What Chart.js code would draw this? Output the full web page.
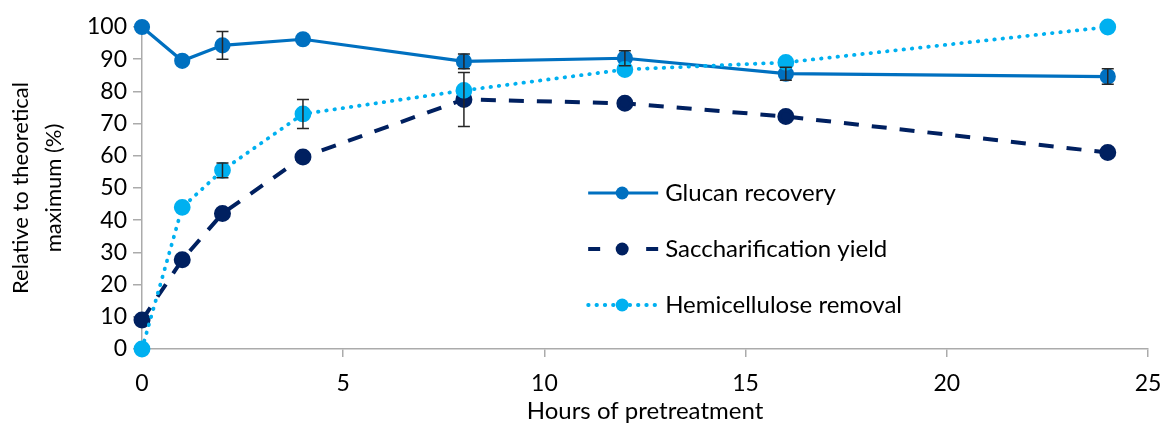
<!DOCTYPE html>
<html>
<head>
<meta charset="utf-8">
<script src="https://cdn.jsdelivr.net/npm/chart.js@4/dist/chart.umd.min.js"></script>
<style>
  html, body { margin: 0; padding: 0; background: #fff; }
  #wrap { width: 1164px; height: 426px; }
</style>
</head>
<body>
<div id="wrap"><canvas id="chart"></canvas></div>
<script>
// Hours of pretreatment
const hours = [0, 1, 2, 4, 8, 12, 16, 24];

// Series values (% of theoretical maximum)
const glucanRecovery = [100, 89.5, 94.3, 96.2, 89.3, 90.3, 85.5, 84.6];
const saccharificationYield = [9, 27.7, 42.1, 59.6, 77.5, 76.3, 72.2, 61];
const hemicelluloseRemoval = [0, 44, 55.5, 73, 80.3, 86.8, 89, 100];

// Error bars (+/-)
const glucanErr = [0, 0, 4.3, 0, 2.3, 2.3, 2, 2.4];
const saccharificationErr = [0, 0, 0, 0, 8.4, 0, 0, 0];
const hemicelluloseErr = [0, 0, 2.3, 4.5, 0, 0, 0, 0];

const seriesNames = ['Glucan recovery', 'Saccharification yield', 'Hemicellulose removal'];
const yTicks = [0, 10, 20, 30, 40, 50, 60, 70, 80, 90, 100];
const xTicks = [0, 5, 10, 15, 20, 25];

const FONT = 'Lato, "Open Sans", sans-serif';

const toPoints = (vals) => hours.map((h, i) => ({ x: h, y: vals[i] }));

// error bars drawn on top of the markers
const errorBars = {
  id: 'errorBars',
  afterDatasetsDraw(chart) {
    const { ctx, scales: { x, y } } = chart;
    ctx.save();
    ctx.strokeStyle = '#262626';
    ctx.lineWidth = 1.5;
    chart.data.datasets.forEach((ds) => {
      ds.errors.forEach((e, i) => {
        if (!e) return;
        const px = x.getPixelForValue(hours[i]);
        const top = y.getPixelForValue(ds.data[i].y + e);
        const bot = y.getPixelForValue(ds.data[i].y - e);
        ctx.beginPath();
        ctx.moveTo(px, top); ctx.lineTo(px, bot);
        ctx.moveTo(px - 6, top); ctx.lineTo(px + 6, top);
        ctx.moveTo(px - 6, bot); ctx.lineTo(px + 6, bot);
        ctx.stroke();
      });
    });
    ctx.restore();
  }
};

// legend inside the plot area, like the original
const innerLegend = {
  id: 'innerLegend',
  afterDraw(chart) {
    const { ctx, chartArea } = chart;
    const x0 = chartArea.left + (chartArea.right - chartArea.left) * 0.4435;
    const y0 = chartArea.top + (chartArea.bottom - chartArea.top) * 0.5155;
    ctx.save();
    chart.data.datasets.forEach((ds, i) => {
      const yy = y0 + i * 56;
      ctx.strokeStyle = ds.borderColor;
      ctx.lineWidth = ds.borderWidth;
      ctx.lineCap = ds.borderCapStyle || 'butt';
      ctx.beginPath();
      if (i === 1) {
        ctx.moveTo(x0, yy); ctx.lineTo(x0 + 12, yy);
        ctx.moveTo(x0 + 58, yy); ctx.lineTo(x0 + 70, yy);
      } else {
        ctx.setLineDash(ds.borderDash || []);
        ctx.moveTo(x0, yy); ctx.lineTo(x0 + 70, yy);
      }
      ctx.stroke();
      ctx.setLineDash([]);
      ctx.fillStyle = ds.backgroundColor;
      ctx.beginPath();
      ctx.arc(x0 + 34, yy, ds.pointRadius, 0, Math.PI * 2);
      ctx.fill();
      ctx.fillStyle = '#000';
      ctx.font = '24px ' + FONT;
      ctx.textBaseline = 'middle';
      ctx.fillText(ds.label, x0 + 77, yy);
    });
    ctx.restore();
  }
};

new Chart(document.getElementById('chart'), {
  type: 'line',
  data: {
    datasets: [
      {
        label: seriesNames[0],
        data: toPoints(glucanRecovery),
        errors: glucanErr,
        borderColor: '#0070C0',
        backgroundColor: '#0070C0',
        borderWidth: 3.2,
        pointRadius: 6.5,
        pointHoverRadius: 6.5,
        clip: false,
        order: 3
      },
      {
        label: seriesNames[1],
        data: toPoints(saccharificationYield),
        errors: saccharificationErr,
        borderColor: '#002060',
        backgroundColor: '#002060',
        borderWidth: 4,
        borderDash: [15, 13],
        pointRadius: 6.5,
        pointHoverRadius: 6.5,
        clip: false,
        order: 2
      },
      {
        label: seriesNames[2],
        data: toPoints(hemicelluloseRemoval),
        errors: hemicelluloseErr,
        borderColor: '#00B0F0',
        backgroundColor: '#00B0F0',
        borderWidth: 3.8,
        borderDash: [0.5, 7.8],
        borderCapStyle: 'round',
        pointRadius: 6.5,
        pointHoverRadius: 6.5,
        clip: false,
        order: 1
      }
    ]
  },
  options: {
    responsive: true,
    maintainAspectRatio: false,
    animation: false,
    layout: { padding: { top: 27, right: 16, left: 0, bottom: 0 } },
    plugins: {
      legend: { display: false },
      tooltip: { enabled: false }
    },
    scales: {
      x: {
        type: 'linear',
        min: 0,
        max: 25,
        afterBuildTicks: (axis) => { axis.ticks = xTicks.map((v) => ({ value: v })); },
        afterFit: (axis) => { axis.height = 77; axis.paddingRight = 0; axis.paddingLeft = 0; },
        border: { color: '#ABABAB', width: 1.5 },
        grid: { drawOnChartArea: false, color: '#ABABAB', tickLength: 8, lineWidth: 1.5 },
        ticks: { color: '#000', font: { family: FONT, size: 23 }, padding: 13 },
        title: {
          display: true,
          text: 'Hours of pretreatment',
          color: '#000',
          font: { family: FONT, size: 24 },
          padding: { top: 0, bottom: 0 }
        }
      },
      y: {
        min: 0,
        max: 100,
        afterBuildTicks: (axis) => { axis.ticks = yTicks.map((v) => ({ value: v })); },
        afterFit: (axis) => { axis.width = 142; axis.paddingTop = 0; axis.paddingBottom = 0; },
        border: { color: '#ABABAB', width: 1.5 },
        grid: { drawOnChartArea: false, color: '#ABABAB', tickLength: 9, lineWidth: 1.5 },
        ticks: { color: '#000', font: { family: FONT, size: 23 }, padding: 6 },
        title: {
          display: true,
          text: ['Relative to theoretical', 'maximum (%)'],
          color: '#000',
          font: { family: FONT, size: 22, lineHeight: 1.5 },
          padding: { top: 4, bottom: 0 }
        }
      }
    }
  },
  plugins: [errorBars, innerLegend]
});
</script>
</body>
</html>
